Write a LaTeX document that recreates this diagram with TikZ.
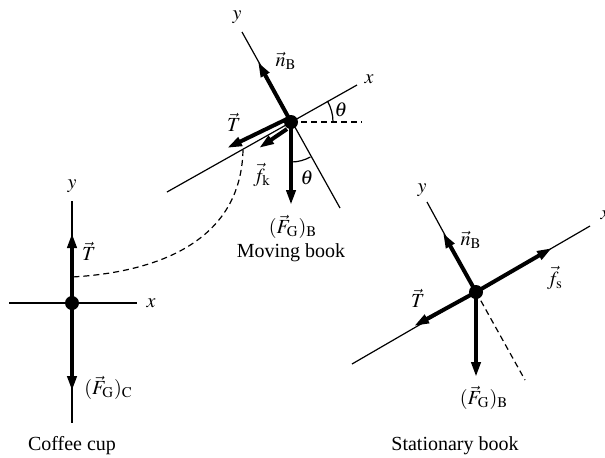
\documentclass[tikz,border=0pt]{standalone}
\usepackage{mathptmx}
\usepackage[no-math]{fontspec}
\setmainfont{Liberation Serif}
\usetikzlibrary{arrows.meta,calc}

\begin{document}
\begin{tikzpicture}[
  x=0.5pt,y=-0.5pt,
  font=\fontsize{10}{12}\selectfont,
  axis/.style={line width=0.6pt},
  guide/.style={line width=0.6pt,dash pattern=on 3pt off 2pt},
  force/.style={line width=2pt,-{Triangle[length=7.5pt,width=4.5pt]}},
  dot/.style={circle,fill,inner sep=0pt,minimum size=7pt},
  lab/.style={inner sep=1pt},
  title/.style={inner sep=1pt}
]
\useasboundingbox (0,0) rectangle (605,457);
% ---- Coffee cup ----
\node[dot] (cup) at (72,303) {};
\coordinate (cupYt) at (72,201);
\coordinate (cupYb) at (72,423);
\coordinate (cupXl) at (9,303);
\coordinate (cupXr) at (137,303);
\coordinate (cupT)  at (72,233);
\coordinate (cupFG) at (72,391);
\draw[axis] (cupYt) -- (cupYb);
\draw[axis] (cupXl) -- (cupXr);
\draw[force] (cup.center) -- (cupT);
\draw[force] (cup.center) -- (cupFG);
\node[lab] (cupy) at (72,186) {$y$};
\node[lab] (cupx) at (151,303) {$x$};
\node[lab] (cupTl) at (89,251) {$\vec{T}$};
\node[lab,anchor=west] (cupFGl) at (82,388) {$(\vec{F}_{\mathrm{G}})_{\mathrm{C}}$};
\node[title] (cuptitle) at (72,446) {Coffee cup};
% ---- Moving book ----
\node[dot] (mov) at (291,122) {};
\coordinate (movXl) at (167,192);
\coordinate (movXr) at (357,85);
\coordinate (movYt) at (242,32);
\coordinate (movYb) at (340,208);
\coordinate (movH)  at (362,122);
\coordinate (movN)  at (258,62);
\coordinate (movT)  at (227,148);
\coordinate (movF)  at (259,148);
\coordinate (movFG) at (291,205);
\draw[axis] (movXl) -- (movXr);
\draw[axis] (movYt) -- (movYb);
\draw[guide] (mov.center) -- (movH);
\draw[axis] ($(mov)+(42,0)$) arc[start angle=0,end angle=-30,radius=42];
\draw[axis] ($(mov)+(0,40)$) arc[start angle=90,end angle=61,radius=40];
\draw[force] (mov.center) -- (movN);
\draw[force] ($(mov)+(-2,-4)$) -- (movT);
\draw[force] ($(mov)+(-4,7)$) -- (movF);
\draw[force] (mov.center) -- (movFG);
\node[lab] (movy) at (237,17) {$y$};
\node[lab] (movx) at (369,79) {$x$};
\node[lab] (movth) at (341,110) {$\theta$};
\node[lab] (movth2) at (307,178) {$\theta$};
\node[lab] (movNl) at (286,61) {$\vec{n}_{\mathrm{B}}$};
\node[lab] (movTl) at (234,122) {$\vec{T}$};
\node[lab] (movFl) at (262,175) {$\vec{f}_{\mathrm{k}}$};
\node[lab] (movFGl) at (293,227) {$(\vec{F}_{\mathrm{G}})_{\mathrm{B}}$};
\node[title] (movtitle) at (291,253) {Moving book};
% ---- Stationary book ----
\node[dot] (sta) at (476,292) {};
\coordinate (staXl) at (352,364);
\coordinate (staXr) at (590,226);
\coordinate (staYt) at (427,202);
\coordinate (staYb) at (525,380);
\coordinate (staN)  at (443,233);
\coordinate (staF)  at (552,248);
\coordinate (staT)  at (414,326);
\coordinate (staFG) at (476,377);
\draw[axis] (staXl) -- (staXr);
\draw[axis] (staYt) -- (sta.center);
\draw[guide] (sta.center) -- (staYb);
\draw[force] (sta.center) -- (staN);
\draw[force] (sta.center) -- (staF);
\draw[force] (sta.center) -- (staT);
\draw[force] (sta.center) -- (staFG);
\node[lab] (stay) at (422,190) {$y$};
\node[lab] (stax) at (605,215) {$x$};
\node[lab] (staNl) at (471,240) {$\vec{n}_{\mathrm{B}}$};
\node[lab] (staFl) at (555,278) {$\vec{f}_{\mathrm{s}}$};
\node[lab] (staTl) at (418,298) {$\vec{T}$};
\node[lab] (staFGl) at (484,398) {$(\vec{F}_{\mathrm{G}})_{\mathrm{B}}$};
\node[title] (statitle) at (455,446) {Stationary book};
% ---- String ----
\coordinate (strA) at (243,150);
\coordinate (strB) at (72,277);
\draw[guide] (strA) .. controls (241,240) and (160,272) .. (strB);
\end{tikzpicture}
\end{document}
